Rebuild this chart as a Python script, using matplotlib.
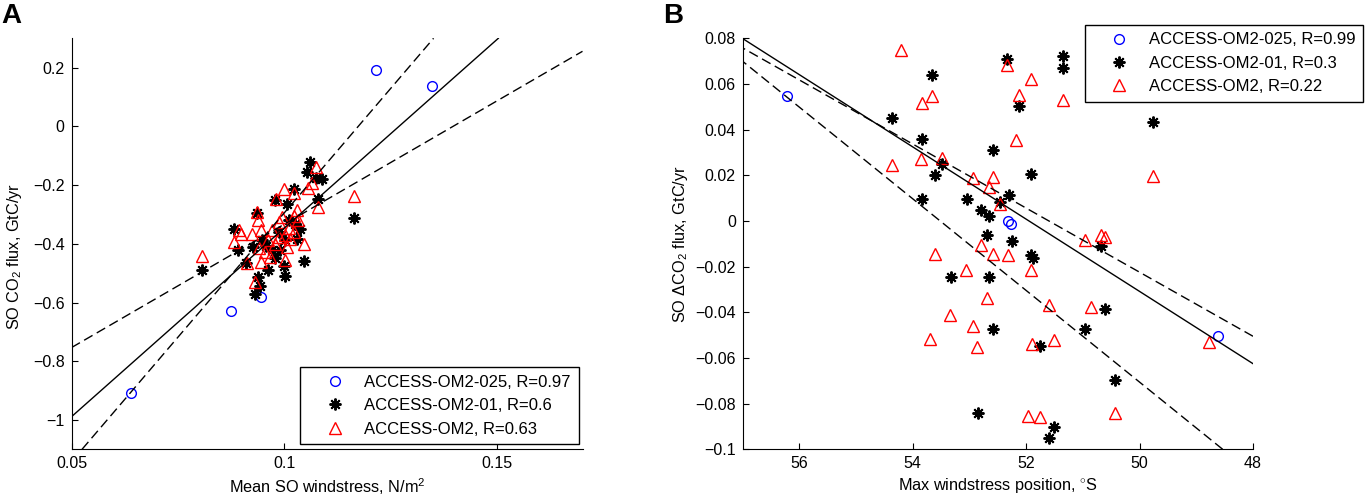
import numpy as np
import matplotlib
matplotlib.use("Agg")
import matplotlib.pyplot as plt

plt.rcParams['font.family'] = ['Liberation Sans', 'DejaVu Sans']
plt.rcParams['mathtext.fontset'] = 'custom'
plt.rcParams['mathtext.rm'] = 'Liberation Sans'
plt.rcParams['mathtext.it'] = 'Liberation Sans:italic'

# ---- panel A: mean SO windstress vs SO CO2 flux ----
a_025_x = [0.0639, 0.0875, 0.0945, 0.1215, 0.1346]
a_025_y = [-0.908, -0.629, -0.581, 0.192, 0.138]

a_01_x = [0.0806, 0.1061, 0.1053, 0.1074, 0.1089, 0.1022, 0.0979, 0.1006, 0.1080,
          0.1164, 0.0935, 0.0881, 0.0891, 0.0926, 0.0948, 0.0987, 0.1029, 0.1045,
          0.0962, 0.1001, 0.0998, 0.0932, 0.0942, 0.0938, 0.0979, 0.0909, 0.1024,
          0.1010, 0.1037, 0.0971, 0.0957, 0.0990, 0.1002]
a_01_y = [-0.488, -0.121, -0.155, -0.175, -0.178, -0.215, -0.252, -0.263, -0.249,
          -0.311, -0.295, -0.348, -0.422, -0.411, -0.388, -0.360, -0.382, -0.458,
          -0.490, -0.511, -0.476, -0.572, -0.545, -0.513, -0.447, -0.465, -0.331,
          -0.320, -0.348, -0.422, -0.408, -0.422, -0.388]

a_om2_x = [0.0806, 0.1075, 0.1055, 0.1065, 0.0998, 0.1023, 0.0980, 0.1164, 0.1080,
           0.0935, 0.0937, 0.1029, 0.1022, 0.1033, 0.0893, 0.0897, 0.0881, 0.0924,
           0.0944, 0.0987, 0.1010, 0.1001, 0.1022, 0.0962, 0.0979, 0.1006, 0.1045,
           0.0940, 0.0954, 0.0912, 0.0944, 0.0965, 0.1001, 0.0930, 0.0987, 0.1014,
           0.0971, 0.0994]
a_om2_y = [-0.442, -0.138, -0.209, -0.193, -0.215, -0.227, -0.249, -0.238, -0.274,
           -0.291, -0.320, -0.286, -0.306, -0.320, -0.352, -0.368, -0.394, -0.368,
           -0.352, -0.326, -0.345, -0.371, -0.360, -0.386, -0.402, -0.411, -0.402,
           -0.413, -0.428, -0.465, -0.462, -0.445, -0.456, -0.530, -0.377, -0.382,
           -0.354, -0.309]

# fit lines: (x0, y0, slope)
a_fit_all = (0.10, -0.346, 12.86)
a_fit_steep = (0.10, -0.294, 16.96)
a_fit_flat = (0.10, -0.333, 8.41)

a_labels = ['ACCESS-OM2-025, R=0.97', 'ACCESS-OM2-01, R=0.6', 'ACCESS-OM2, R=0.63']
a_xticks = [0.05, 0.1, 0.15]
a_xticklabels = ['0.05', '0.1', '0.15']
a_yticks = [0.2, 0, -0.2, -0.4, -0.6, -0.8, -1]
a_yticklabels = ['0.2', '0', '\u22120.2', '\u22120.4', '\u22120.6', '\u22120.8', '\u22121']

# ---- panel B: max windstress position vs SO delta CO2 flux ----
b_025_x = [56.21, 52.32, 52.26, 48.62]
b_025_y = [0.0546, 0.0000, -0.0015, -0.0505]

b_01_x = [52.33, 51.35, 51.35, 53.67, 52.13, 54.37, 49.77, 53.83, 52.59, 53.49,
          53.60, 51.91, 53.84, 53.05, 52.30, 52.79, 52.65, 52.47, 52.69, 52.25,
          51.91, 51.88, 53.33, 52.66, 50.68, 50.61, 50.97, 52.58, 51.76, 50.43,
          52.85, 51.51, 51.60]
b_01_y = [0.0711, 0.0721, 0.0670, 0.0639, 0.0502, 0.0451, 0.0434, 0.0361, 0.0312,
          0.0248, 0.0200, 0.0207, 0.0098, 0.0098, 0.0115, 0.0047, 0.0020, 0.0082,
          -0.0063, -0.0088, -0.0147, -0.0161, -0.0245, -0.0245, -0.0111, -0.0384,
          -0.0472, -0.0472, -0.0549, -0.0698, -0.0839, -0.0902, -0.0949]

b_om2_x = [54.20, 52.33, 51.91, 53.67, 53.83, 52.13, 51.35, 52.18, 54.37, 53.85,
           53.49, 52.93, 52.58, 52.66, 52.47, 49.77, 50.97, 50.68, 50.61, 52.79,
           52.58, 52.32, 53.60, 53.06, 51.91, 52.69, 51.60, 50.85, 53.34, 52.93,
           53.70, 52.86, 51.90, 51.51, 48.77, 51.97, 51.76, 50.43]
b_om2_y = [0.0750, 0.0682, 0.0623, 0.0546, 0.0518, 0.0550, 0.0531, 0.0356, 0.0244,
           0.0273, 0.0277, 0.0188, 0.0193, 0.0149, 0.0076, 0.0196, -0.0085, -0.0063,
           -0.0070, -0.0107, -0.0143, -0.0147, -0.0146, -0.0213, -0.0213, -0.0336,
           -0.0369, -0.0377, -0.0413, -0.0461, -0.0515, -0.0552, -0.0537, -0.0523,
           -0.0530, -0.0855, -0.0858, -0.0839]

b_fit_all = (48.0, -0.0625, 0.01582)
b_fit_upper = (48.0, -0.0505, 0.01403)
b_fit_lower = (57.0, 0.0699, 0.02007)

b_labels = ['ACCESS-OM2-025, R=0.99', 'ACCESS-OM2-01, R=0.3', 'ACCESS-OM2, R=0.22']
b_xticks = [56, 54, 52, 50, 48]
b_xticklabels = ['56', '54', '52', '50', '48']
b_yticks = [0.08, 0.06, 0.04, 0.02, 0, -0.02, -0.04, -0.06, -0.08, -0.1]
b_yticklabels = ['0.08', '0.06', '0.04', '0.02', '0', '\u22120.02', '\u22120.04',
                 '\u22120.06', '\u22120.08', '\u22120.1']

W, H = 1365, 498
fig = plt.figure(figsize=(W / 100, H / 100), dpi=100)

star = (8, 2, 0)
dash = (0, (7, 3.5))


def px_axes(left, right, top, bottom):
    return fig.add_axes([left / W, 1 - bottom / H, (right - left) / W, (bottom - top) / H])


def draw_panel(ax, d025, d01, dom2, fits):
    ax.plot(*d025, linestyle='none', marker='o', ms=7, mfc='none', mec='#0000ff', mew=1.0)
    ax.plot(*d01, linestyle='none', marker=star, ms=8.5, color='k', mew=1.4)
    ax.plot(*dom2, linestyle='none', marker='^', ms=8.5, mfc='none', mec='#ff0000', mew=1.0)
    for (x0, y0, s), ls in zip(fits, ['-', dash, dash]):
        ax.axline((x0, y0), slope=s, color='k', lw=1.0, linestyle=ls)
    for side in ['top', 'right']:
        ax.spines[side].set_visible(False)
    for side in ['left', 'bottom']:
        ax.spines[side].set_linewidth(0.8)
    ax.tick_params(direction='in', length=4, width=0.8, labelsize=11.5, pad=5)


def add_legend(ax, labels, loc, anchor):
    leg = ax.legend(ax.lines[:3], labels, loc=loc,
                    bbox_to_anchor=(anchor[0] / W, 1 - anchor[1] / H),
                    bbox_transform=fig.transFigure,
                    fontsize=12, fancybox=False, framealpha=1, edgecolor='k',
                    borderpad=0.45, handlelength=3.2, handletextpad=0.2,
                    labelspacing=0.5, borderaxespad=0)
    leg.get_frame().set_linewidth(1.0)


# panel A
axA = px_axes(71.5, 582.5, 38.3, 449.3)
draw_panel(axA, (a_025_x, a_025_y), (a_01_x, a_01_y), (a_om2_x, a_om2_y),
           [a_fit_all, a_fit_steep, a_fit_flat])
axA.set_xlim(0.05, 0.17)
axA.set_ylim(-1.1, 0.3)
axA.set_xticks(a_xticks, a_xticklabels)
axA.set_yticks(a_yticks, a_yticklabels)
axA.set_xlabel('Mean SO windstress, N/m$^2$', fontsize=11.7)
axA.set_ylabel('SO CO$_2$ flux, GtC/yr', fontsize=11.7)
axA.xaxis.set_label_coords(0.5, -0.066)
axA.yaxis.set_label_coords(-0.092, 0.47)
add_legend(axA, a_labels, 'lower right', (578.5, 444))

# panel B
axB = px_axes(742.7, 1253, 38.3, 449.3)
draw_panel(axB, (b_025_x, b_025_y), (b_01_x, b_01_y), (b_om2_x, b_om2_y),
           [b_fit_all, b_fit_upper, b_fit_lower])
axB.set_xlim(57, 48)
axB.set_ylim(-0.1, 0.08)
axB.set_xticks(b_xticks, b_xticklabels)
axB.set_yticks(b_yticks, b_yticklabels)
axB.set_xlabel('Max windstress position, $^{\\circ}$S', fontsize=11.7)
axB.set_ylabel('SO \u0394CO$_2$ flux, GtC/yr', fontsize=11.7)
axB.xaxis.set_label_coords(0.5, -0.066)
axB.yaxis.set_label_coords(-0.103, 0.5)
add_legend(axB, b_labels, 'upper right', (1363, 25))

fig.text(1 / W, 1 - 3 / H, 'A', fontsize=20, fontweight='bold', ha='left', va='top')
fig.text(663 / W, 1 - 3 / H, 'B', fontsize=20, fontweight='bold', ha='left', va='top')

fig.savefig('out.png', dpi=100)
